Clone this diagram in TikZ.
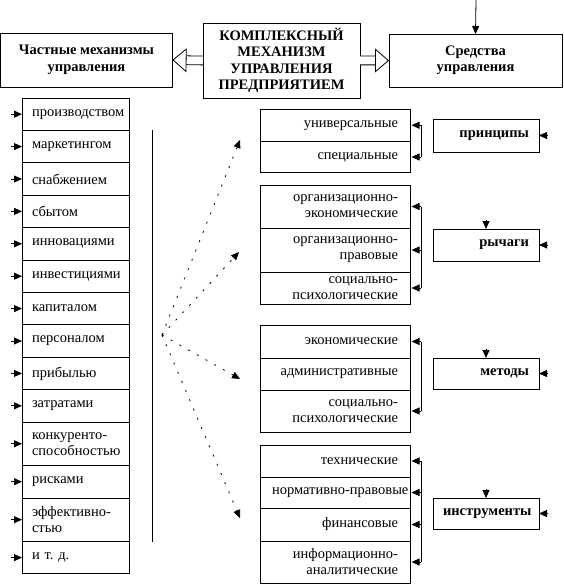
\documentclass[tikz,border=0pt]{standalone}
\usepackage{fontspec}
\setmainfont{Liberation Serif}
\usetikzlibrary{positioning,arrows.meta}
\tikzset{
	txt/.style={font=\fontsize{14.5bp}{16bp}\selectfont},
	box/.style={draw, line width=0.8bp, outer sep=0pt, txt},
	head/.style={box, font=\fontsize{14.5bp}{16.5bp}\selectfont\bfseries, align=center, anchor=north west},
	leftitem/.style={box, text width=87bp, inner xsep=10bp, inner ysep=0pt, align=left, minimum height=32.4bp},
	subitem/.style={box, text width=126bp, inner xsep=12bp, inner ysep=0pt, align=right, minimum height=32.5bp},
	tag/.style={box, font=\fontsize{14.5bp}{16bp}\selectfont\bfseries, text width=86bp, inner xsep=10bp, inner ysep=0pt, align=right, anchor=north west},
	pointer/.style={line width=0.8bp, -{Triangle[length=8bp,width=7bp]}},
	dashline/.style={pointer, dash pattern=on 2bp off 8bp},
	hollow/.style={line width=0.8bp, double=white, double distance=8bp, -{Triangle[length=14bp,width=24bp,fill=white,line width=0.8bp]}}
}
\begin{document}
\begin{tikzpicture}[x=1bp, y=-1bp]
	\useasboundingbox (0,0) rectangle (564,587);
	
	%top row
	\node[head, minimum width=157bp, minimum height=75bp] (core) at (203,23) {КОМПЛЕКСНЫЙ\\МЕХАНИЗМ\\УПРАВЛЕНИЯ\\ПРЕДПРИЯТИЕМ};
	\node[head, minimum width=172bp, minimum height=54bp] (partial) at (0.5,33) {Частные механизмы\\управления};
	\node[head, minimum width=173bp, minimum height=53bp] (means) at (389,34) {Средства\\управления};
	\draw[hollow] (core.west) -- (partial.east);
	\draw[hollow] (core.east) -- (means.west);
	\coordinate (feed) at (476,0);
	\draw[pointer] (feed) -- (means.north);
	
	%partial mechanisms
	\node[leftitem, anchor=north west] (prod) at (22,98) {производством};
	\node[leftitem, below=0pt of prod] (mark) {маркетингом};
	\node[leftitem, below=0pt of mark] (supp) {снабжением};
	\node[leftitem, below=0pt of supp] (sales) {сбытом};
	\node[leftitem, below=0pt of sales] (innov) {инновациями};
	\node[leftitem, below=0pt of innov] (invest) {инвестициями};
	\node[leftitem, below=0pt of invest] (capit) {капиталом};
	\node[leftitem, below=0pt of capit] (staff) {персоналом};
	\node[leftitem, below=0pt of staff] (profit) {прибылью};
	\node[leftitem, below=0pt of profit] (costs) {затратами};
	\node[leftitem, below=0pt of costs, minimum height=43.5bp] (compet) {конкуренто-\\способностью};
	\node[leftitem, below=0pt of compet] (risks) {рисками};
	\node[leftitem, below=0pt of risks, minimum height=43.5bp] (effic) {эффективно-\\стью};
	\node[leftitem, below=0pt of effic] (etc) {и т.~д.};
	\foreach \n in {prod, mark, supp, sales, innov, invest, capit, staff, profit, costs, compet, risks, effic, etc}{
		\coordinate (\n-l) at ([xshift=-11bp]\n.west);
		\draw[pointer] (\n-l) -- (\n.west);
	}
	
	%spine and fan
	\coordinate (spineTop) at (152,130);
	\coordinate (spineBot) at (152,542);
	\draw[line width=0.8bp] (spineTop) -- (spineBot);
	\coordinate (hub) at (162,335);
	\coordinate (fan1) at (240,140);
	\coordinate (fan2) at (239,252);
	\coordinate (fan3) at (240,379);
	\coordinate (fan4) at (240,518);
	\foreach \f in {fan1, fan2, fan3, fan4}{
		\draw[dashline] (hub) -- (\f);
	}
	
	%means: groups
	\node[subitem, anchor=north west] (univ) at (260,109) {универсальные};
	\node[subitem, below=0pt of univ, minimum height=31bp] (spec) {специальные};
	
	\node[subitem, anchor=north west, minimum height=43bp] (orgec) at (260,185) {организационно-\\экономические};
	\node[subitem, below=0pt of orgec, minimum height=44bp] (orglaw) {организационно-\\правовые};
	\node[subitem, below=0pt of orglaw, minimum height=32bp] (socps1) {социально-\\психологические};
	
	\node[subitem, anchor=north west, minimum height=33bp] (econ) at (260,325) {экономические};
	\node[subitem, below=0pt of econ, minimum height=32bp] (admin) {административные};
	\node[subitem, below=0pt of admin, minimum height=42bp] (socps2) {социально-\\психологические};
	
	\node[subitem, anchor=north west, minimum height=32bp] (tech) at (260,445) {технические};
	\node[subitem, below=0pt of tech, minimum height=31bp] (norm) {\mbox{нормативно-правовые}};
	\node[subitem, below=0pt of norm, minimum height=33bp] (fin) {финансовые};
	\node[subitem, below=0pt of fin, minimum height=42bp] (info) {информационно-\\аналитические};
	
	%brackets
	\coordinate (brk) at (421,0);
	\draw[line width=0.8bp] (univ.east -| brk) -- (spec.east -| brk);
	\draw[line width=0.8bp] (orgec.east -| brk) -- (socps1.east -| brk);
	\draw[line width=0.8bp] (econ.east -| brk) -- (socps2.east -| brk);
	\draw[line width=0.8bp] (tech.east -| brk) -- (info.east -| brk);
	\foreach \n in {univ, spec, orgec, orglaw, socps1, econ, socps2, tech, norm, fin, info}{
		\draw[pointer, shorten >=1.5bp] (\n.east -| brk) -- (\n.east);
	}
	
	%means: labels
	\node[tag, minimum height=33bp] (princ) at (433,119) {принципы};
	\node[tag, minimum height=32bp] (lever) at (433,229) {рычаги};
	\node[tag, minimum height=31bp] (meth) at (433,358) {методы};
	\node[tag, minimum height=31bp] (tools) at (433,498) {инструменты};
	\foreach \n in {princ, lever, meth, tools}{
		\coordinate (\n-r) at ([xshift=9bp]\n.east);
		\draw[pointer] (\n-r) -- (\n.east);
	}
	\foreach \n in {lever, meth, tools}{
		\coordinate (\n-t) at ([yshift=9bp]\n.north);
		\draw[pointer] (\n-t) -- (\n.north);
	}
\end{tikzpicture}
\end{document}
